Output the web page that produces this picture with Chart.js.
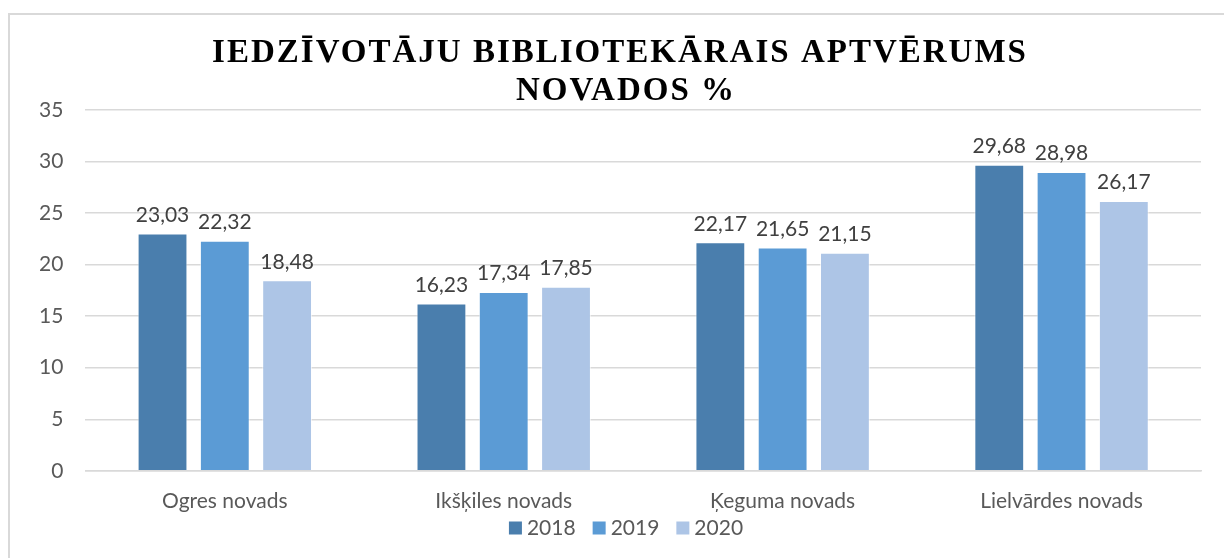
<!DOCTYPE html>
<html>
<head>
<meta charset="utf-8">
<script src="https://cdn.jsdelivr.net/npm/chart.js@4.4.1/dist/chart.umd.min.js"></script>
<style>
    html, body { margin: 0; padding: 0; background: #fff; overflow: hidden; }
    #wrap { position: relative; width: 1224px; height: 558px; }
    #frame { position: absolute; left: 8px; top: 13px; width: 1300px; height: 600px;
             border-left: 2px solid #d9d9d9; border-top: 2px solid #d9d9d9; }
    #chart { position: absolute; left: 0; top: 0; }
</style>
</head>
<body>
<div id="wrap">
    <div id="frame"></div>
    <canvas id="chart" width="1224" height="558"></canvas>
</div>
<script>
// dati
const categories = ['Ogres novads', 'Ikšķiles novads', 'Ķeguma novads', 'Lielvārdes novads'];
const years = ['2018', '2019', '2020'];
const values2018 = [23.03, 16.23, 22.17, 29.68];
const values2019 = [22.32, 17.34, 21.65, 28.98];
const values2020 = [18.48, 17.85, 21.15, 26.17];
const titleLines = ['IEDZĪVOTĀJU BIBLIOTEKĀRAIS APTVĒRUMS', 'NOVADOS %'];

const colors = ['#4a7ead', '#5b9bd5', '#adc5e6'];
const labelFont = 'Lato, "Open Sans", sans-serif';

// virsraksts ar retinātiem burtiem
const titlePlugin = {
    id: 'spacedTitle',
    afterDraw(chart) {
        const ctx = chart.ctx;
        ctx.save();
        ctx.font = 'bold 33px "Liberation Serif", "Times New Roman", serif';
        ctx.letterSpacing = '2px';
        ctx.fillStyle = '#000';
        ctx.textAlign = 'center';
        ctx.textBaseline = 'alphabetic';
        ctx.fillText(titleLines[0], 620, 62);
        ctx.fillText(titleLines[1], 626, 100);
        ctx.restore();
    }
};

// vērtības virs stabiņiem
const valueLabels = {
    id: 'valueLabels',
    afterDatasetsDraw(chart) {
        const ctx = chart.ctx;
        ctx.save();
        ctx.font = '21px ' + labelFont;
        ctx.fillStyle = '#404040';
        ctx.textAlign = 'center';
        ctx.textBaseline = 'bottom';
        chart.data.datasets.forEach((ds, i) => {
            chart.getDatasetMeta(i).data.forEach((bar, j) => {
                const txt = ds.data[j].toFixed(2).replace('.', ',');
                ctx.fillText(txt, bar.x, bar.y - 8);
            });
        });
        ctx.restore();
    }
};

// leģenda zem ass (kompaktāka nekā iebūvētā)
const bottomLegend = {
    id: 'bottomLegend',
    afterDraw(chart) {
        const ctx = chart.ctx;
        const box = 13, gap = 5, spacing = 17;
        ctx.save();
        ctx.font = '21px ' + labelFont;
        ctx.textBaseline = 'middle';
        ctx.textAlign = 'left';
        const items = chart.data.datasets.map(ds => ({
            text: ds.label, color: ds.backgroundColor, w: ctx.measureText(ds.label).width
        }));
        const total = items.reduce((s, it) => s + box + gap + it.w, 0) + spacing * (items.length - 1);
        let x = 626 - total / 2;
        const y = 528;
        items.forEach(it => {
            ctx.fillStyle = it.color;
            ctx.fillRect(x, y - box / 2, box, box);
            x += box + gap;
            ctx.fillStyle = '#595959';
            ctx.fillText(it.text, x, y);
            x += it.w + spacing;
        });
        ctx.restore();
    }
};

const ctx = document.getElementById('chart');
new Chart(ctx, {
    type: 'bar',
    data: {
        labels: categories,
        datasets: [
            { label: years[0], data: values2018, backgroundColor: colors[0] },
            { label: years[1], data: values2019, backgroundColor: colors[1] },
            { label: years[2], data: values2020, backgroundColor: colors[2] }
        ].map(d => Object.assign(d, {
            borderColor: 'rgba(255,255,255,0.6)',
            borderWidth: 1,
            categoryPercentage: 0.67,
            barPercentage: 0.8
        }))
    },
    options: {
        responsive: false,
        animation: false,
        layout: { padding: { left: 17, right: 23, top: 110, bottom: 34 } },
        scales: {
            x: {
                grid: { display: false },
                border: { color: '#d9d9d9', width: 1.5 },
                ticks: { color: '#595959', font: { family: labelFont, size: 21 }, padding: 10 }
            },
            y: {
                min: 0,
                max: 35,
                ticks: { stepSize: 5, color: '#595959', font: { family: labelFont, size: 21 }, padding: 22 },
                grid: { color: '#d9d9d9', lineWidth: 1.5, drawTicks: false },
                border: { display: false }
            }
        },
        plugins: {
            legend: { display: false },
            title: { display: false },
            tooltip: { enabled: false }
        }
    },
    plugins: [titlePlugin, valueLabels, bottomLegend]
});
</script>
</body>
</html>
